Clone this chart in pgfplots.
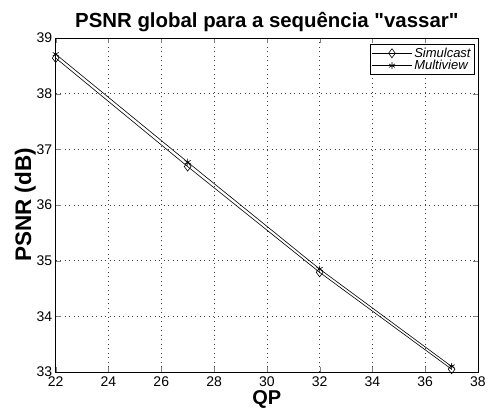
\documentclass[border=0pt]{standalone}
\usepackage{pgfplots}
\pgfplotsset{compat=1.18}
\usepackage{fontspec}
\setmainfont{Liberation Sans}[Ligatures=TeXOff]
\begin{document}
\begin{tikzpicture}
\useasboundingbox (-55.7pt,-40pt) rectangle (432.3pt,372pt);
\begin{axis}[
  scale only axis,
  width=422.3pt, height=334pt,
  xmin=22, xmax=38, ymin=33, ymax=39,
  xtick={22,24,...,38}, ytick={33,...,39},
  /pgf/number format/assume math mode=true,
  ticklabel style={font=\fontsize{14}{15}\selectfont},
  xticklabel style={yshift=-1.5pt},
  tick align=inside,
  major tick length=5pt,
  grid=major,
  grid style={dash pattern=on 1pt off 3.5pt, black!75, line width=0.6pt},
  axis line style={line width=0.7pt},
  title={\bfseries PSNR global para a sequência "vassar"},
  title style={font=\fontsize{20.4}{22}\selectfont, yshift=-3pt},
  xlabel={\bfseries QP},
  ylabel={\bfseries PSNR (dB)},
  xlabel style={font=\fontsize{20}{22}\selectfont, yshift=3pt},
  ylabel style={font=\fontsize{22.5}{24}\selectfont, yshift=-6pt},
  legend style={at={(0.9915,0.982)}, anchor=north east, draw=black, line width=0.6pt,
    font=\fontsize{13}{13.5}\selectfont\itshape, inner sep=1.5pt, row sep=-2.5pt,
    legend cell align=left},
  legend image code/.code={%
    \draw[mark repeat=2,mark phase=2] plot coordinates {(0pt,0pt) (20pt,0pt) (40pt,0pt)};},
]
\addplot[black, line width=0.6pt, mark=diamond, mark size=4.5pt, mark options={solid, fill=white}]
  coordinates {(22,38.64) (27,36.69) (32,34.79) (37,33.05)};
\addlegendentry{Simulcast}
\addplot[black, line width=0.6pt, mark=asterisk, mark size=3.5pt]
  coordinates {(22,38.71) (27,36.77) (32,34.85) (37,33.10)};
\addlegendentry{Multiview}
\end{axis}
\end{tikzpicture}
\end{document}
